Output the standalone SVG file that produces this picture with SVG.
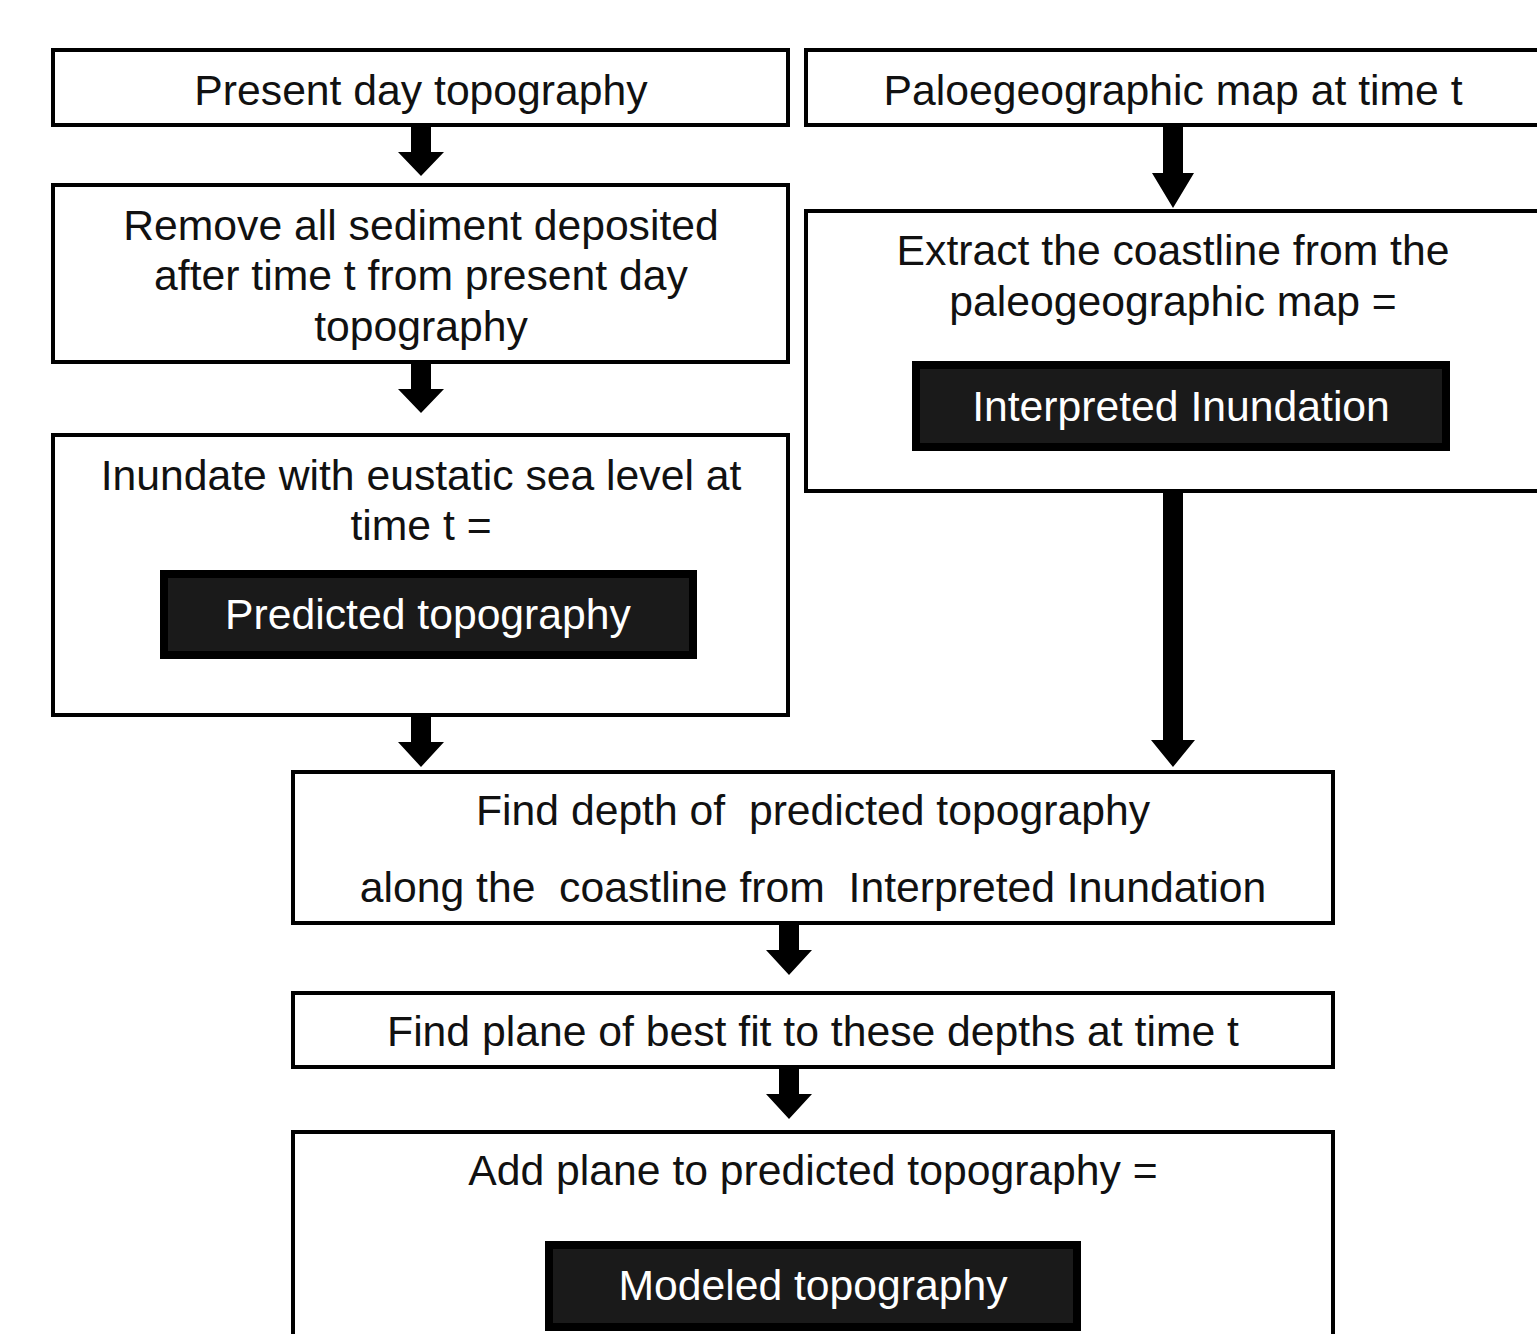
<svg xmlns="http://www.w3.org/2000/svg" width="1537" height="1334" viewBox="0 0 1537 1334">
<style>
.box{fill:#fff;stroke:#000;stroke-width:4}
.t{font-family:"Liberation Sans",Arial,sans-serif;font-size:42.7px;fill:#111;text-anchor:middle}
.bk{fill:#1a1a1a;stroke:#000;stroke-width:8}
.w{font-family:"Liberation Sans",Arial,sans-serif;font-size:42.7px;fill:#fff;text-anchor:middle}
.ar{fill:#000}
</style>
<rect width="1537" height="1334" fill="#fff"/>
<g id="connectors">
<path class="ar" d="M411,126 H431 V152 H444 L421,176 L398,152 H411 Z"/>
<path class="ar" d="M411,362 H431 V389 H444 L421,413 L398,389 H411 Z"/>
<path class="ar" d="M411,715 H431 V742 H444 L421,767 L398,742 H411 Z"/>
<path class="ar" d="M1163,126 H1183 V173 H1194 L1173,208 L1152,173 H1163 Z"/>
<path class="ar" d="M1163,491 H1183 V740 H1195 L1173,767 L1151,740 H1163 Z"/>
<path class="ar" d="M779,923 H799 V950 H812 L789,975 L766,950 H779 Z"/>
<path class="ar" d="M779,1067 H799 V1094 H812 L789,1119 L766,1094 H779 Z"/>
</g>
<g id="present">
<rect class="box" x="53" y="50" width="735" height="75"/>
<text class="t" x="421" y="105">Present day topography</text>
</g>
<g id="paleo">
<rect class="box" x="806" y="50" width="740" height="75"/>
<text class="t" x="1173" y="105">Paloegeographic map at time t</text>
</g>
<g id="remove">
<rect class="box" x="53" y="185" width="735" height="177"/>
<text class="t" x="421" y="240">Remove all sediment deposited</text>
<text class="t" x="421" y="290">after time t from present day</text>
<text class="t" x="421" y="341">topography</text>
</g>
<g id="extract">
<rect class="box" x="806" y="211" width="740" height="280"/>
<text class="t" x="1173" y="265">Extract the coastline from the</text>
<text class="t" x="1173" y="316">paleogeographic map =</text>
<rect class="bk" x="916" y="365" width="530" height="82"/>
<text class="w" x="1181" y="421">Interpreted Inundation</text>
</g>
<g id="inundate">
<rect class="box" x="53" y="435" width="735" height="280"/>
<text class="t" x="421" y="490">Inundate with eustatic sea level at</text>
<text class="t" x="421" y="540">time t =</text>
<rect class="bk" x="164" y="574" width="529" height="81"/>
<text class="w" x="428" y="629">Predicted topography</text>
</g>
<g id="finddepth">
<rect class="box" x="293" y="772" width="1040" height="151"/>
<text class="t" x="813" y="825" xml:space="preserve">Find depth of  predicted topography</text>
<text class="t" x="813" y="902" xml:space="preserve">along the  coastline from  Interpreted Inundation</text>
</g>
<g id="findplane">
<rect class="box" x="293" y="993" width="1040" height="74"/>
<text class="t" x="813" y="1046">Find plane of best fit to these depths at time t</text>
</g>
<g id="addplane">
<rect class="box" x="293" y="1132" width="1040" height="220"/>
<text class="t" x="813" y="1185">Add plane to predicted topography =</text>
<rect class="bk" x="549" y="1245" width="528" height="82"/>
<text class="w" x="813" y="1300">Modeled topography</text>
</g>
</svg>
